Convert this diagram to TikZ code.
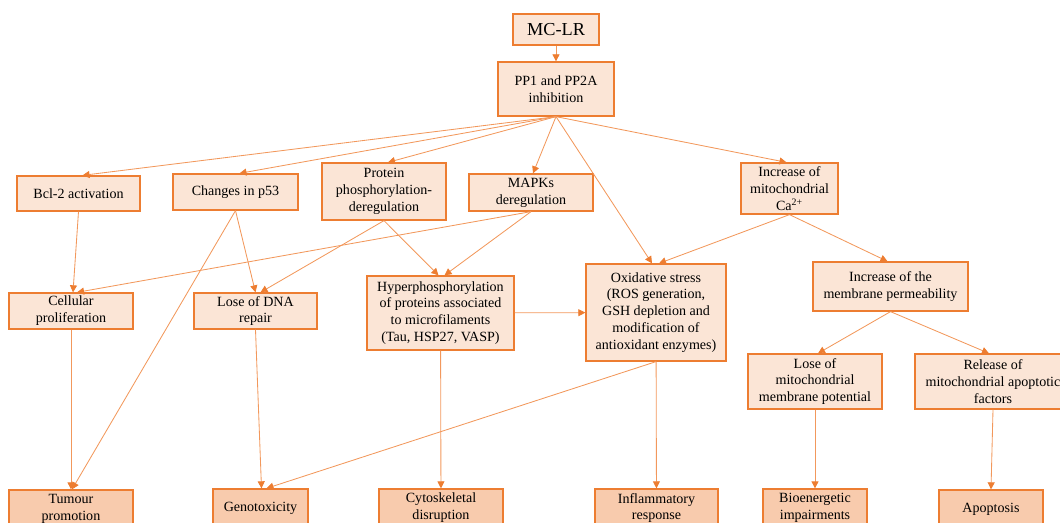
\documentclass[tikz,border=0pt]{standalone}
\usepackage{fontspec}
\setmainfont{Liberation Serif}
\usetikzlibrary{calc}
\usetikzlibrary{arrows.meta}

\definecolor{boxline}{RGB}{237,125,49}
\definecolor{lightfill}{RGB}{251,229,214}
\definecolor{darkfill}{RGB}{248,203,173}
\definecolor{linkline}{RGB}{242,152,92}

\tikzset{
  lightbox/.style={draw=boxline, fill=lightfill, line width=0.9pt, inner sep=0pt,
    align=center, font=\fontsize{10}{12}\selectfont},
  darkbox/.style={lightbox, fill=darkfill},
  link/.style={draw=linkline, line width=0.6pt,
    -{Triangle[length=5pt,width=5pt,fill=boxline,color=boxline]}},
}

\begin{document}
\begin{tikzpicture}[x=0.025cm, y=-0.025cm]
  \useasboundingbox (0,0) rectangle (1060,523);
  \clip (0,0) rectangle (1060,523);

  % top
  \node[lightbox, minimum width=2.15cm, minimum height=0.775cm,
        font=\fontsize{13}{15}\selectfont] (mclr) at (556,29.5) {MC-LR};
  \node[lightbox, minimum width=2.9cm, minimum height=1.35cm] (pp) at (556,89)
    {PP1 and PP2A\\inhibition};

  % second row
  \node[lightbox, minimum width=3.075cm, minimum height=0.875cm] (bcl) at (78.5,193.5)
    {Bcl-2 activation};
  \node[lightbox, minimum width=3.125cm, minimum height=0.9cm] (p53) at (235.5,192)
    {Changes in p53};
  \node[lightbox, minimum width=3.1cm, minimum height=1.425cm] (prot) at (384,191.5)
    {Protein\\phosphorylation-\\deregulation};
  \node[lightbox, minimum width=3.1cm, minimum height=0.925cm] (mapk) at (531,192.5)
    {MAPKs\\deregulation};
  \node[lightbox, minimum width=2.425cm, minimum height=1.275cm] (ca) at (789.5,188.5)
    {Increase of\\mitochondrial\\Ca\textsuperscript{2+}};

  % third row
  \node[lightbox, minimum width=3.1cm, minimum height=0.9cm] (cell) at (71,311)
    {Cellular\\proliferation};
  \node[lightbox, minimum width=3.075cm, minimum height=0.9cm] (dna) at (255.5,311)
    {Lose of DNA\\repair};
  \node[lightbox, minimum width=3.675cm, minimum height=1.85cm] (hyper) at (440.5,313)
    {Hyperphosphorylation\\of proteins associated\\to microfilaments\\(Tau, HSP27, VASP)};
  \node[lightbox, minimum width=3.5cm, minimum height=2.425cm] (oxid) at (656,312.5)
    {Oxidative stress\\(ROS generation,\\GSH depletion and\\modification of\\antioxidant enzymes)};
  \node[lightbox, minimum width=3.875cm, minimum height=1.225cm] (memb) at (890.5,286.5)
    {Increase of the\\membrane permeability};
  \node[lightbox, minimum width=3.35cm, minimum height=1.375cm] (mito) at (815,381.5)
    {Lose of\\mitochondrial\\membrane potential};
  \node[lightbox, minimum width=3.9cm, minimum height=1.375cm] (release) at (993,381.5)
    {Release of\\mitochondrial apoptotic\\factors};

  % outcomes
  \node[darkbox, minimum width=3.1cm, minimum height=0.95cm] (tumour) at (71,509)
    {Tumour\\promotion};
  \node[darkbox, minimum width=2.375cm, minimum height=0.95cm] (geno) at (260.5,508)
    {Genotoxicity};
  \node[darkbox, minimum width=3.1cm, minimum height=0.95cm] (cyto) at (441,508)
    {Cytoskeletal\\disruption};
  \node[darkbox, minimum width=3.075cm, minimum height=0.95cm] (inflam) at (656.5,508)
    {Inflammatory\\response};
  \node[darkbox, minimum width=2.6cm, minimum height=0.95cm] (bioen) at (815,508)
    {Bioenergetic\\impairments};
  \node[darkbox, minimum width=2.6cm, minimum height=0.95cm] (apop) at (991,509)
    {Apoptosis};

  % links
  \draw[link] (mclr) -- (pp);
  \draw[link] (pp.south) -- ($(bcl.north)+(4,0)$);
  \draw[link] (pp.south) -- ($(p53.north)+(4,0)$);
  \draw[link] (pp.south) -- ($(prot.north)+(4,0)$);
  \draw[link] (pp.south) -- ($(mapk.north)+(2,0)$);
  \draw[link] (pp.south) -- ($(oxid.north)+(-4,0)$);
  \draw[link] (pp.south) -- ($(ca.north)+(-3,0)$);
  \draw[link] (bcl.south) -- ($(cell.north)+(2,0)$);
  \draw[link] (mapk.south) -- ($(cell.north)+(6,0)$);
  \draw[link] (p53.south) -- (dna.north);
  \draw[link] (p53.south) -- ($(tumour.north)+(1,0)$);
  \draw[link] (prot.south) -- ($(dna.north)+(5,0)$);
  \draw[link] (prot.south) -- ($(hyper.north)+(-2,0)$);
  \draw[link] (mapk.south) -- ($(hyper.north)+(4,0)$);
  \draw[link] (ca.south) -- ($(oxid.north)+(3,0)$);
  \draw[link] (ca.south) -- ($(memb.north)+(-3,0)$);
  \draw[link] (hyper) -- (oxid);
  \draw[link] (cell) -- (tumour);
  \draw[link] (dna.south) -- ($(geno.north)+(1,0)$);
  \draw[link] (oxid.south) -- ($(geno.north)+(6,0)$);
  \draw[link] (hyper) -- (cyto);
  \draw[link] (oxid) -- (inflam);
  \draw[link] (memb.south) -- ($(mito.north)+(3,0)$);
  \draw[link] (memb.south) -- ($(release.north)+(-4,0)$);
  \draw[link] (mito) -- (bioen);
  \draw[link] (release.south) -- (apop.north);
\end{tikzpicture}
\end{document}
